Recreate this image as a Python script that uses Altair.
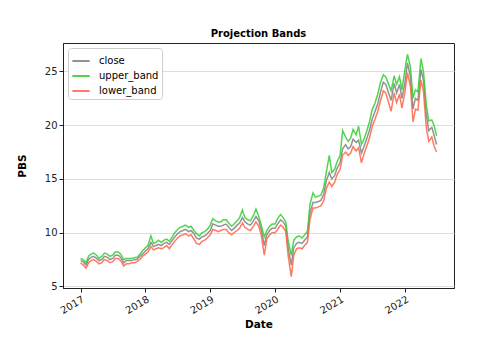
import altair as alt
import pandas as pd

# semi-monthly sample dates (1st and 15th), Jan 2017 .. late Jun 2022
dates = []
for y in range(2017, 2023):
    for m in range(1, 13):
        for d in (1, 15):
            dates.append(f"{y}-{m:02d}-{d:02d}")
dates = dates[:132] + ["2022-06-28"]

close = [7.4, 7.3, 7.0, 7.5, 7.7, 7.8, 7.6, 7.4, 7.5, 7.8, 7.7, 7.5,
         7.6, 7.9, 7.9, 7.7, 7.2, 7.4, 7.4, 7.4, 7.5, 7.5, 7.8, 8.0,
         8.3, 8.5, 9.1, 8.7, 8.8, 8.9, 8.8, 9.0, 9.1, 8.9, 9.3, 9.6,
         9.9, 10.1, 10.2, 10.3, 10.1, 10.2, 9.9, 9.5, 9.4, 9.6, 9.7, 9.9,
         10.2, 10.8, 10.7, 10.6, 10.6, 10.7, 10.8, 10.5, 10.2, 10.4, 10.7, 10.9,
         11.4, 11.0, 10.8, 10.7, 11.1, 11.5, 11.1, 10.3, 8.8, 9.8, 10.2, 10.4,
         10.4, 10.8, 11.2, 11.0, 10.6, 8.5, 7.0, 8.6, 9.0, 9.1, 9.0, 9.3,
         9.6, 11.8, 12.8, 12.8, 12.9, 13.0, 13.6, 14.8, 15.6, 15.0, 15.3, 16.0,
         16.5, 17.8, 18.2, 17.8, 18.0, 18.7, 18.4, 18.6, 17.4, 18.0, 18.8, 19.5,
         20.6, 21.2, 22.0, 23.0, 24.0, 23.8, 23.0, 22.3, 23.9, 23.0, 23.8, 22.5,
         24.0, 25.8, 24.5, 21.5, 22.5, 22.3, 25.2, 24.2, 21.0, 19.5, 19.8, 19.0,
         18.2]

upper_band = [7.6, 7.5, 7.2, 7.8, 8.0, 8.1, 7.9, 7.6, 7.8, 8.1, 8.0, 7.8,
              7.9, 8.2, 8.2, 8.0, 7.5, 7.6, 7.6, 7.6, 7.7, 7.7, 8.0, 8.3,
              8.6, 8.8, 9.7, 9.0, 9.1, 9.3, 9.1, 9.3, 9.4, 9.2, 9.6, 10.0,
              10.3, 10.5, 10.6, 10.7, 10.5, 10.6, 10.2, 9.9, 9.7, 10.0, 10.1, 10.3,
              10.7, 11.3, 11.1, 11.0, 11.0, 11.2, 11.2, 10.9, 10.6, 10.8, 11.1, 11.4,
              12.1, 11.4, 11.2, 11.1, 11.6, 12.2, 11.5, 10.7, 9.6, 10.2, 10.6, 10.8,
              10.8, 11.3, 11.7, 11.4, 11.0, 9.2, 7.9, 9.3, 9.6, 9.7, 9.5, 9.8,
              10.1, 12.6, 13.7, 13.3, 13.4, 13.5, 14.2, 15.6, 17.2, 15.6, 15.9, 16.6,
              17.2, 19.5, 18.9, 18.5, 18.8, 19.6, 19.1, 19.9, 18.2, 18.7, 19.5, 20.3,
              21.5, 22.0, 22.9, 23.9, 24.7, 24.5, 23.8, 23.2, 24.6, 23.8, 24.5, 23.3,
              25.2, 26.6, 25.4, 22.5, 23.3, 23.1, 26.2, 25.0, 21.9, 20.4, 20.5, 19.9,
              19.0]

lower_band = [7.2, 7.0, 6.7, 7.2, 7.4, 7.5, 7.3, 7.1, 7.2, 7.5, 7.4, 7.2,
              7.3, 7.6, 7.6, 7.4, 6.9, 7.1, 7.1, 7.2, 7.2, 7.3, 7.5, 7.8,
              8.0, 8.2, 8.7, 8.4, 8.5, 8.6, 8.5, 8.6, 8.8, 8.5, 8.9, 9.2,
              9.5, 9.7, 9.8, 9.9, 9.7, 9.8, 9.4, 9.0, 8.9, 9.2, 9.3, 9.5,
              9.8, 10.3, 10.2, 10.1, 10.2, 10.3, 10.3, 10.0, 9.8, 10.0, 10.2, 10.4,
              10.9, 10.5, 10.3, 10.2, 10.6, 11.0, 10.6, 9.8, 7.9, 9.4, 9.8, 10.0,
              10.0, 10.3, 10.7, 10.5, 10.1, 7.8, 5.9, 7.9, 8.5, 8.6, 8.5, 8.8,
              9.1, 11.2, 12.3, 12.3, 12.4, 12.5, 13.0, 14.1, 14.7, 14.3, 14.7, 15.4,
              15.9, 17.2, 17.5, 17.2, 17.4, 18.0, 17.6, 17.9, 16.5, 17.3, 18.1, 18.8,
              19.9, 20.5, 21.3, 22.2, 23.2, 23.0, 22.1, 21.3, 23.0, 22.1, 22.9, 21.6,
              23.1, 24.9, 23.6, 20.3, 21.5, 21.4, 24.2, 23.2, 19.8, 18.5, 18.9, 18.0,
              17.5]

series_names = ["close", "upper_band", "lower_band"]
series_colors = ["#808080", "#32CD32", "#FF6347"]
year_ticks = [2017, 2018, 2019, 2020, 2021, 2022]

frames = []
for name, vals in zip(series_names, [close, upper_band, lower_band]):
    frames.append(pd.DataFrame({"Date": dates, "value": vals, "series": name}))
df = pd.concat(frames, ignore_index=True)

color = alt.Color(
    "series:N",
    scale=alt.Scale(domain=series_names, range=series_colors),
    legend=alt.Legend(
        title=None, orient="none", legendX=5, legendY=5,
        fillColor="white", strokeColor="#cccccc", cornerRadius=3,
        padding=3, symbolType="stroke", symbolSize=300, symbolStrokeWidth=2,
        labelFontSize=10, labelFont="DejaVu Sans", labelColor="#000000",
        rowPadding=-1, symbolOpacity=0.85, labelOffset=8,
    ),
)

x = alt.X(
    "Date:T",
    title="Date",
    scale=alt.Scale(type="utc", domain=[alt.DateTime(year=2016, month=9, date=24, utc=True),
                                        alt.DateTime(year=2022, month=10, date=4, utc=True)]),
    axis=alt.Axis(
        values=[alt.DateTime(year=yy, month=1, date=1, utc=True) for yy in year_ticks],
        format="%Y", formatType="utc", labelAngle=-30, labelAlign="right",
        labelBaseline="top", grid=False, titlePadding=4,
    ),
)
y = alt.Y(
    "value:Q",
    title="PBS",
    scale=alt.Scale(domain=[4.85, 27.65], nice=False, zero=False),
    axis=alt.Axis(values=[5, 10, 15, 20, 25], grid=True, titlePadding=17),
)

layers = []
for name in series_names:
    layers.append(
        alt.Chart(df)
        .transform_filter(alt.datum.series == name)
        .mark_line(strokeWidth=1.5, opacity=0.85, clip=True)
        .encode(x=x, y=y, color=color)
    )

chart = (
    alt.layer(*layers)
    .properties(
        width=391, height=245,
        title=alt.TitleParams("Projection Bands", fontSize=10, fontWeight="bold",
                              font="DejaVu Sans", offset=4, color="#000000"),
        autosize=alt.AutoSizeParams(type="none"),
        padding={"left": 63, "top": 43, "right": 50, "bottom": 72},
        background="white",
    )
    .configure_view(stroke="#222222", strokeWidth=1)
    .configure_axis(
        labelFont="DejaVu Sans", labelFontSize=10, labelColor="#222222",
        titleFont="DejaVu Sans", titleFontSize=10.5, titleFontWeight="bold", titleColor="#000000",
        domainColor="#222222", tickColor="#222222", tickSize=4,
        gridColor="#dddddd", gridWidth=1, labelPadding=2,
    )
)

chart.save("out.html", embed_options={"renderer": "svg", "actions": False})
